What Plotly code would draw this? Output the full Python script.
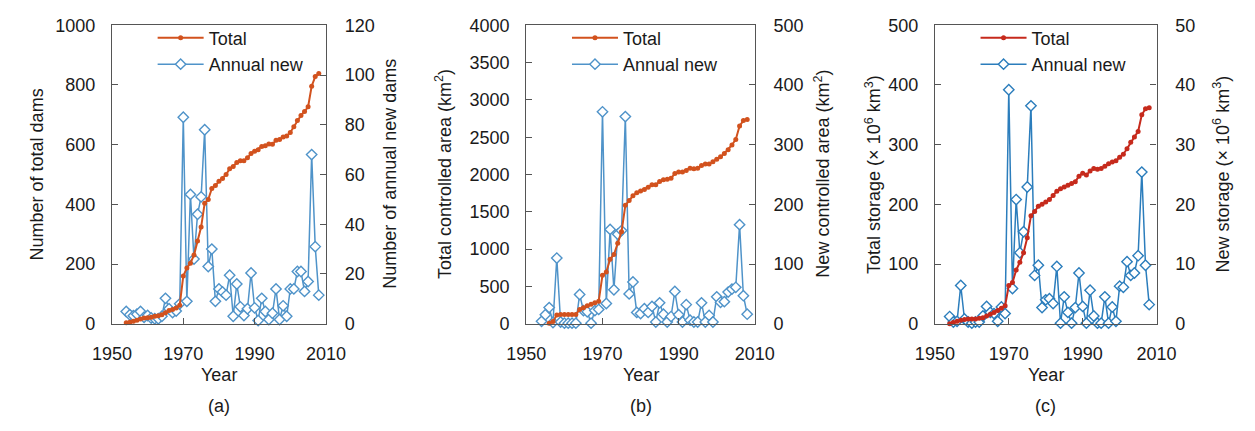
import plotly.graph_objects as go

W, H = 1255, 431

years = list(range(1954, 2009))
years_area_total = list(range(1956, 2009))

dams_total = [3, 5, 8, 12, 16, 19, 20, 22, 25, 27, 30, 37, 44, 48, 53, 62,
              160, 187, 203, 230, 277, 324, 404, 416, 453, 463,
              477, 487, 500, 519, 527, 540, 546, 546, 556, 570,
              578, 583, 594, 596, 602, 601, 615, 617, 626, 629,
              641, 660, 681, 698, 711, 727, 796, 828, 838]
dams_new = [4.9, 3.6, 3.2, 3.8, 4.9, 2.6, 3.3, 2.3, 2.0, 2.0, 3.0, 10.2, 6.0, 4.5, 5.1, 8.0,
            83, 9, 52, 26, 44, 51, 78, 23, 30, 9,
            14, 12.8, 11.5, 19.5, 3, 16, 6.8, 3.3, 6, 20.4,
            6.4, 1.3, 10.2, 4.9, 1.7, 4.2, 14, 1.7, 7.2, 3,
            14, 14, 21, 21, 13, 17, 68, 31, 11.5]

area_total = [5, 30, 116, 125, 125, 125, 125, 125, 190, 213, 240, 262, 281, 300,
              651, 694, 864, 928, 1077, 1234, 1587, 1651, 1715, 1757,
              1779, 1800, 1830, 1864, 1864, 1906, 1928, 1936, 1949, 2013,
              2034, 2034, 2055, 2085, 2076, 2085, 2119, 2140, 2140, 2170,
              2204, 2238, 2281, 2332, 2396, 2470, 2651, 2723, 2736]
area_new = [4, 15, 27, 2, 110, 3, 1, 1, 1, 1, 49, 22, 20, 1, 22, 24,
            355, 34, 158, 57, 150, 156, 347, 50, 70, 19,
            17, 25, 19, 29, 3, 35, 16, 3, 12, 54,
            15, 3, 32, 6, 3, 3, 35, 3, 14, 3,
            45, 36, 37, 53, 58, 61, 166, 47, 16]

storage_total = [0, 2, 4, 6, 7, 8, 8, 8, 9, 10, 13, 16, 19, 22, 26, 30,
                 64, 69, 90, 103, 119, 144, 181, 188, 197, 200,
                 204, 208, 215, 222, 226, 229, 232, 235, 238, 247,
                 252, 249, 256, 260, 259, 260, 264, 268, 271, 273,
                 279, 284, 293, 304, 313, 322, 350, 360, 362]
storage_new = [1.2, 0.3, 0.4, 6.4, 0.8, 0.3, 0.1, 0.3, 0.3, 1.3, 2.9, 1.9, 1.7, 0.4, 2.8, 1.7,
               39.2, 5.9, 20.8, 11.9, 15.4, 22.9, 36.5, 8.1, 9.8, 2.7,
               4.0, 4.2, 3.4, 9.6, 0.1, 4.5, 1.9, 0.1, 2.7, 8.5,
               2.9, 0.1, 5.6, 1.3, 0.1, 0.1, 4.5, 0.1, 2.8, 0.4,
               6.3, 6.1, 10.4, 8.1, 8.5, 11.4, 25.4, 9.8, 3.2]

x_ticks = [1950, 1970, 1990, 2010]

panels = [
    dict(px=(95, 316), tx=years, total=dams_total, new=dams_new,
         lrange=[0, 1000], ldtick=200, rrange=[0, 120], rdtick=20,
         red="#D2521E", blue="#4F93C9",
         ltitle="Number of total dams", rtitle="Number of annual new dams",
         ltx=18, rtx=382, label="(a)"),
    dict(px=(523, 759), tx=years_area_total, total=area_total, new=area_new,
         lrange=[0, 4000], ldtick=500, rrange=[0, 500], rdtick=100,
         red="#D2521E", blue="#4F93C9",
         ltitle="Total controlled area (km<sup>2</sup>)",
         rtitle="New controlled area (km<sup>2</sup>)",
         ltx=437, rtx=828, label="(b)"),
    dict(px=(945, 1174), tx=years, total=storage_total, new=storage_new,
         lrange=[0, 500], ldtick=100, rrange=[0, 50], rdtick=10,
         red="#C62A1C", blue="#2B7DBC",
         ltitle="Total storage (× 10<sup>6</sup> km<sup>3</sup>)",
         rtitle="New storage (× 10<sup>6</sup> km<sup>3</sup>)",
         ltx=881, rtx=1241, label="(c)"),
]

FONT = "Liberation Sans, Arial, sans-serif"
TXT = "#1a1a1a"
LINE = "#555555"
top_px, bot_px = 16, 329
ydom = [1 - bot_px / H, 1 - top_px / H]

fig = go.Figure()
annotations = []
layout = {}


def ann(text, xpx, ypx, size=18, angle=0):
    return dict(text=text, x=xpx / W, y=1 - ypx / H, xref="paper",
                yref="paper", xanchor="center", yanchor="middle",
                showarrow=False, textangle=angle,
                font=dict(size=size, color=TXT, family=FONT))


for i, p in enumerate(panels):
    n = i + 1
    xa = "x" if n == 1 else f"x{n}"
    yb = f"y{2*n-1}" if n > 1 else "y"
    yr = f"y{2*n}"
    xkey = "xaxis" if n == 1 else f"xaxis{n}"
    ybkey = "yaxis" if n == 1 else f"yaxis{2*n-1}"
    yrkey = f"yaxis{2*n}"
    leg = "legend" if n == 1 else f"legend{n}"

    x0, x1 = p["px"][0] / W, p["px"][1] / W

    fig.add_trace(go.Scatter(
        x=p["tx"], y=p["total"], xaxis=xa, yaxis=yr, name="Total",
        mode="lines+markers", legend=leg, cliponaxis=False,
        line=dict(color=p["red"], width=2),
        marker=dict(symbol="circle", size=5, color=p["red"])))
    fig.add_trace(go.Scatter(
        x=years, y=p["new"], xaxis=xa, yaxis=yb, name="Annual new",
        mode="lines+markers", legend=leg, cliponaxis=False,
        line=dict(color=p["blue"], width=1.5),
        marker=dict(symbol="diamond", size=8, color="white",
                    line=dict(color=p["blue"], width=1.4))))

    layout[xkey] = dict(domain=[x0, x1], anchor=yb, range=[1950, 2010],
                        tickvals=x_ticks, ticks="inside", ticklen=6,
                        tickcolor=LINE, showline=True, linecolor=LINE,
                        linewidth=1.2, mirror=True, showgrid=False,
                        zeroline=False, ticklabelstandoff=14,
                        tickfont=dict(size=18, color=TXT, family=FONT))
    layout[ybkey] = dict(domain=ydom, anchor=xa, side="right",
                         range=p["rrange"], dtick=p["rdtick"], tick0=0,
                         ticks="inside", ticklen=6, tickcolor=LINE,
                         showline=True, linecolor=LINE, linewidth=1.2,
                         showgrid=False, zeroline=False, ticklabelstandoff=14,
                         tickfont=dict(size=18, color=TXT, family=FONT))
    layout[yrkey] = dict(overlaying=yb, anchor=xa, side="left",
                         range=p["lrange"], dtick=p["ldtick"], tick0=0,
                         ticks="inside", ticklen=6, tickcolor=LINE,
                         showline=True, linecolor=LINE, linewidth=1.2,
                         showgrid=False, zeroline=False, ticklabelstandoff=12,
                         tickfont=dict(size=18, color=TXT, family=FONT))
    layout[leg] = dict(x=(p["px"][0] + 42) / W, y=1 - 10 / H,
                       xanchor="left", yanchor="top",
                       bgcolor="rgba(0,0,0,0)", borderwidth=0,
                       itemwidth=46, tracegroupgap=0,
                       font=dict(size=18, color=TXT, family=FONT))

    cx = (p["px"][0] + p["px"][1]) / 2
    annotations += [
        ann("Year", cx, 383),
        ann(p["label"], cx, 415, size=18),
        ann(p["ltitle"], p["ltx"], 172, angle=-90),
        ann(p["rtitle"], p["rtx"], 172, angle=-90),
    ]

fig.update_layout(width=W, height=H, margin=dict(l=0, r=0, t=0, b=0),
                  paper_bgcolor="white", plot_bgcolor="white",
                  showlegend=True, annotations=annotations,
                  font=dict(family=FONT, size=18, color=TXT), **layout)

fig.write_html("out.html")
